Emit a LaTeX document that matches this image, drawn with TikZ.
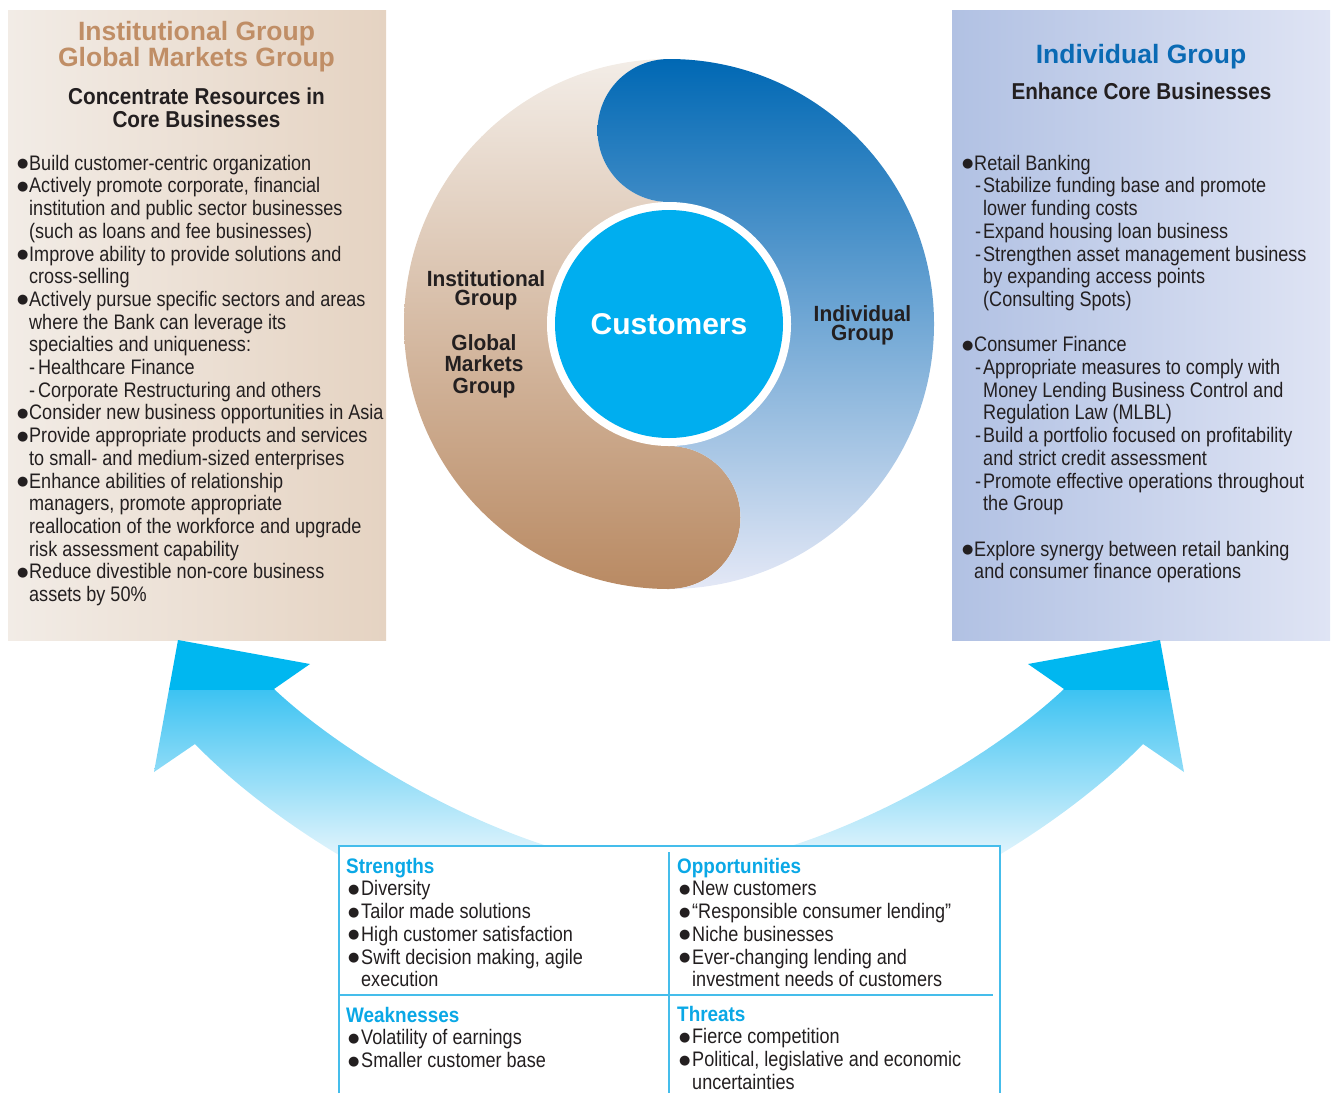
\documentclass[tikz,border=0pt]{standalone}
\usepackage{fontspec}
\usepackage{graphicx}
\setmainfont{Liberation Sans}
\newfontfamily\bodyf[FakeStretch=0.86]{Liberation Sans}
\newfontfamily\condf[FakeStretch=0.9]{Liberation Sans}
\newfontfamily\midf[FakeStretch=0.95]{Liberation Sans}
\newfontfamily\plainf{Liberation Sans}
\newfontfamily\symf{DejaVu Sans}
\definecolor{txt}{HTML}{231F20}
\definecolor{tan}{HTML}{C08E66}
\definecolor{blu}{HTML}{0A6AB4}
\definecolor{swc}{HTML}{0AA8E6}
\definecolor{swline}{HTML}{45BDEB}
\definecolor{cust}{HTML}{00AEEF}
\definecolor{arrc}{HTML}{00B7F0}
\definecolor{arrc2}{HTML}{3DC3F2}
\definecolor{arrlow}{HTML}{EEF8FD}
\definecolor{lbL}{HTML}{F2ECE6}
\definecolor{lbR}{HTML}{E5D3C2}
\definecolor{rbL}{HTML}{B1C1E3}
\definecolor{rbR}{HTML}{DFE4F4}
\definecolor{brT}{HTML}{F3EDE7}
\definecolor{brM}{HTML}{E2CDB8}
\definecolor{brB}{HTML}{B98A63}
\definecolor{blT}{HTML}{0068B4}
\definecolor{blM}{HTML}{94ACDB}
\definecolor{blB}{HTML}{E4E8F6}
\newcommand\tp{\rule{0pt}{20pt}}
\newcommand\bsym{\raisebox{2.5pt}{{\symf\fontsize{13}{13}\selectfont ●}}}
\newcommand\bu{\makebox[12pt][l]{\bsym}}
\newcommand\ind{\hspace*{12pt}}
\newcommand\ds{\makebox[9pt][l]{-}}
\newcommand\sbu{\hspace*{2pt}\makebox[13pt][l]{\bsym}}
\newcommand\hd[1]{{\condf\bfseries\fontsize{21}{22.7}\selectfont\color{swc}#1}}
\begin{document}
\begin{tikzpicture}[x=1pt,y=1pt,
  body/.style={font=\bodyf\fontsize{21}{22.7}\selectfont, text=txt, align=left, inner sep=0pt, anchor=north west},
  ttl/.style={font=\plainf\bfseries\fontsize{26.5}{26}\selectfont, align=center, inner sep=0pt, anchor=north},
  subttl/.style={font=\condf\bfseries\fontsize{23}{23.7}\selectfont, text=txt, align=center, inner sep=0pt, anchor=north},
  clbl/.style={font=\midf\bfseries\fontsize{22}{19.5}\selectfont, text=txt, align=center, inner sep=0pt, anchor=north}]
\useasboundingbox (0,0) rectangle (1332,-1093);
% side boxes
\shade[left color=lbL, right color=lbR] (8,-10) rectangle (386,-640);
\shade[left color=rbL, right color=rbR] (952,-10) rectangle (1330,-640);
% big arrow
\begin{scope}
\clip (178,-640) -- (310,-664) -- (274,-689)
  .. controls (360,-770) and (540,-868) .. (669,-868)
  .. controls (798,-868) and (978,-770) .. (1064,-689)
  -- (1028,-664) -- (1160,-640) -- (1184,-772) -- (1143,-744)
  .. controls (1050,-840) and (850,-960) .. (669,-960)
  .. controls (488,-960) and (288,-840) .. (195,-744)
  -- (154,-772) -- cycle;
\fill[arrc] (140,-630) rectangle (1200,-690);
\shade[top color=arrc2, bottom color=arrlow] (140,-690) rectangle (1200,-868);
\fill[arrlow] (140,-868) rectangle (1200,-970);
\end{scope}
% circle
\shade[top color=brT, middle color=brM, bottom color=brB]
  (669,-59) arc[start angle=90,end angle=270,radius=71.5] -- (669,-446)
  arc[start angle=90,end angle=-90,radius=71.5]
  arc[start angle=-90,end angle=-270,radius=265] -- cycle;
\shade[top color=blT, middle color=blM, bottom color=blB]
  (669,-59) arc[start angle=90,end angle=-90,radius=265]
  arc[start angle=-90,end angle=90,radius=71.5] -- (669,-202)
  arc[start angle=-90,end angle=-270,radius=71.5] -- cycle;
\fill[white] (669,-324) circle[radius=122];
\node[circle, fill=cust, minimum size=228, inner sep=0pt] (custc) at (669,-324) {};
\node[font=\plainf\bfseries\fontsize{30}{30}\selectfont, text=white, anchor=base, inner sep=0pt] (custl) at (669,-334) {Customers};
\node[clbl] (inst) at (486,-266) {\tp Institutional\\Group};
\node[clbl, font=\midf\bfseries\fontsize{22}{21.5}\selectfont] (gmg) at (484,-330) {\tp Global\\Markets\\Group};
\node[clbl] (indg) at (862.5,-301) {\tp Individual\\Group};
% left box text
\node[ttl, text=tan] (lt) at (196.5,-20) {\tp Institutional Group\\Global Markets Group};
\node[subttl] (ls) at (196.5,-84) {\tp Concentrate Resources in\\Core Businesses};
\node[body] (llist) at (17,-150) {\tp\bu Build customer-centric organization\\
\bu Actively promote corporate, financial\\
\ind institution and public sector businesses\\
\ind (such as loans and fee businesses)\\
\bu Improve ability to provide solutions and\\
\ind cross-selling\\
\bu Actively pursue specific sectors and areas\\
\ind where the Bank can leverage its\\
\ind specialties and uniqueness:\\
\ind\ds Healthcare Finance\\
\ind\ds Corporate Restructuring and others\\
\bu Consider new business opportunities in Asia\\
\bu Provide appropriate products and services\\
\ind to small- and medium-sized enterprises\\
\bu Enhance abilities of relationship\\
\ind managers, promote appropriate\\
\ind reallocation of the workforce and upgrade\\
\ind risk assessment capability\\
\bu Reduce divestible non-core business\\
\ind assets by 50\%};
% right box text
\node[ttl, text=blu] (rt) at (1141,-43.3) {\tp Individual Group};
\node[subttl] (rs) at (1141.5,-79.3) {\tp Enhance Core Businesses};
\node[body] (rlist) at (962,-150) {\tp\bu Retail Banking\\
\hspace*{13pt}\makebox[8pt][l]{-}Stabilize funding base and promote\\
\hspace*{21pt}lower funding costs\\
\hspace*{13pt}\makebox[8pt][l]{-}Expand housing loan business\\
\hspace*{13pt}\makebox[8pt][l]{-}Strengthen asset management business\\
\hspace*{21pt}by expanding access points\\
\hspace*{21pt}(Consulting Spots)\\[22.7pt]
\bu Consumer Finance\\
\hspace*{13pt}\makebox[8pt][l]{-}Appropriate measures to comply with\\
\hspace*{21pt}Money Lending Business Control and\\
\hspace*{21pt}Regulation Law (MLBL)\\
\hspace*{13pt}\makebox[8pt][l]{-}Build a portfolio focused on profitability\\
\hspace*{21pt}and strict credit assessment\\
\hspace*{13pt}\makebox[8pt][l]{-}Promote effective operations throughout\\
\hspace*{21pt}the Group\\[22.7pt]
\bu Explore synergy between retail banking\\
\ind and consumer finance operations};
% SWOT box
\fill[white] (339,-846) rectangle (1000,-1093);
\draw[swline, line width=1.2pt] (339,-1093) -- (339,-846) -- (1000,-846) -- (1000,-1093);
\draw[swline, line width=1.2pt] (669,-852) -- (669,-1093);
\draw[swline, line width=1.2pt] (339,-995) -- (993,-995);
\node[body] (str) at (346,-853) {\tp\hd{Strengths}\\
\sbu Diversity\\
\sbu Tailor made solutions\\
\sbu High customer satisfaction\\
\sbu Swift decision making, agile\\
\hspace*{15pt}execution};
\node[body] (opp) at (677,-853) {\tp\hd{Opportunities}\\
\sbu New customers\\
\sbu “Responsible consumer lending”\\
\sbu Niche businesses\\
\sbu Ever-changing lending and\\
\hspace*{15pt}investment needs of customers};
\node[body] (wea) at (346,-1002) {\tp\hd{Weaknesses}\\
\sbu Volatility of earnings\\
\sbu Smaller customer base};
\node[body] (thr) at (677,-1001) {\tp\hd{Threats}\\
\sbu Fierce competition\\
\sbu Political, legislative and economic\\
\hspace*{15pt}uncertainties};
\end{tikzpicture}
\end{document}
